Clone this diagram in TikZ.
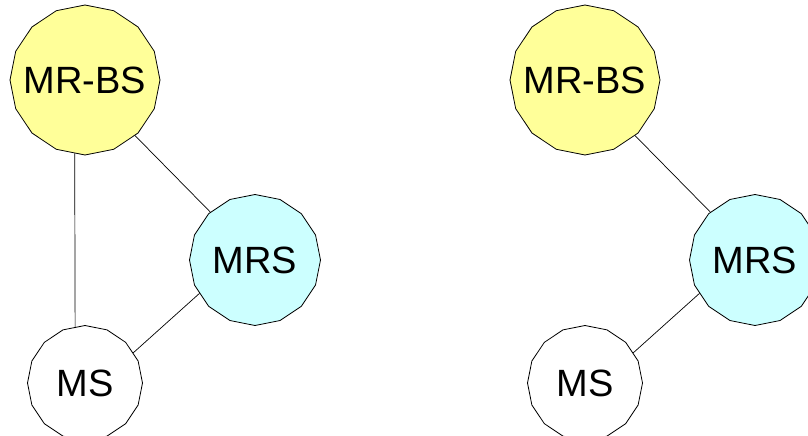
\documentclass[tikz,border=0pt]{standalone}
\usepackage{fontspec}
\setmainfont{Liberation Sans}
\usetikzlibrary{shapes.geometric}
\definecolor{bsyellow}{HTML}{FFFF99}
\definecolor{rscyan}{HTML}{CCFFFF}
\newcommand{\stationname}[1]{\makebox[0pt]{#1}}

\begin{document}
\begin{tikzpicture}[x=1pt,y=-1pt,
    station/.style={regular polygon,regular polygon sides=16,shape border rotate=11.25,
        draw=black,line width=0.8pt,inner sep=0pt,font=\fontsize{38}{40}\selectfont},
    bs/.style={station,fill=bsyellow,minimum size=150pt},
    rs/.style={station,fill=rscyan,minimum size=131pt},
    ms/.style={station,fill=white,minimum size=115pt},
    link/.style={draw=black,line width=0.7pt}]
        \clip (0,0) rectangle (808,436);
        % left: direct link MR-BS -- MS and relay via MRS
        \node[bs] (mrbsA) at (85,80) {\stationname{MR-BS}};
        \node[rs] (mrsA) at (255,260) {\stationname{MRS}};
        \node[ms] (msA) at (85,383) {\stationname{MS}};
        \draw[link] (mrbsA.262)--(msA.100);
        \draw[link] (mrbsA.312)--(mrsA.133);
        \draw[link] (msA.32)--(mrsA.211);
        % right: relay only
        \node[bs] (mrbsB) at (585,80) {\stationname{MR-BS}};
        \node[rs] (mrsB) at (755,260) {\stationname{MRS}};
        \node[ms] (msB) at (585,383) {\stationname{MS}};
        \draw[link] (mrbsB.312)--(mrsB.133);
        \draw[link] (msB.32)--(mrsB.211);
    \end{tikzpicture}
\end{document}
